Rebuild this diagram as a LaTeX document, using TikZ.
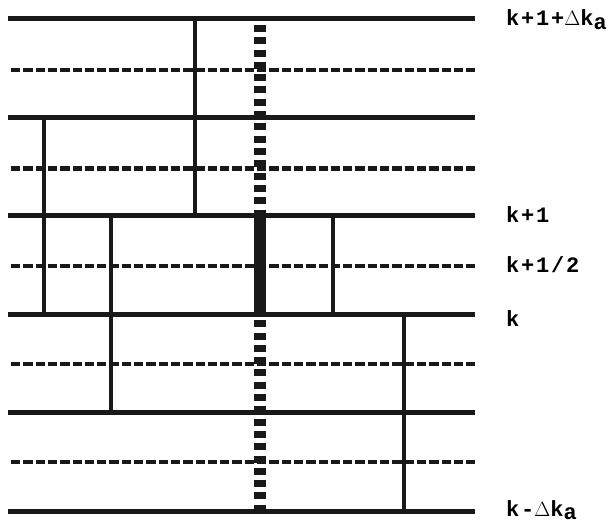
\documentclass[tikz,border=0pt]{standalone}
\usepackage{fontspec}
\newfontfamily\labelfont[LetterSpace=8]{Liberation Mono}
\begin{document}
\begin{tikzpicture}[x=1pt,y=-1pt,
  level/.style={line width=5pt,black!90},
  halflevel/.style={line width=4.5pt,black!90,dash pattern=on 9.3pt off 3pt},
  link/.style={line width=4.5pt,black!90},
  axisdash/.style={line width=12pt,black!90,dash pattern=on 7pt off 5.3pt},
  axisbar/.style={line width=12pt,black!90},
  lbl/.style={anchor=base west,inner sep=0pt,font=\labelfont\bfseries\fontsize{22}{22}\selectfont}]
\useasboundingbox (0,0) rectangle (613,524);
% solid levels
\foreach \y [count=\i] in {19,117.4,215.8,314.2,412.6,511}{
  \coordinate (sL\i) at (8,\y); \coordinate (sR\i) at (475,\y);
  \draw[level] (sL\i) -- (sR\i);
}
% dashed half levels
\foreach \y [count=\i] in {70,168.6,266,364,462}{
  \coordinate (dL\i) at (11,\y); \coordinate (dR\i) at (475,\y);
  \draw[halflevel] (dL\i) -- (dR\i);
}
% central axis
\coordinate (axT) at (260,25);
\coordinate (axB) at (260,511);
\draw[axisdash] (axT) -- (axB);
\coordinate (barT) at (260,213);
\coordinate (barB) at (260,317);
\draw[axisbar] (barT) -- (barB);
% vertical links
\draw[link] (195,19) -- (195,215.8);
\draw[link] (44,117.4) -- (44,314.2);
\draw[link] (111,215.8) -- (111,412.6);
\draw[link] (333,215.8) -- (333,314.2);
\draw[link] (404,314.2) -- (404,511);
% labels
\node[lbl] (l1) at (506,26) {k+1+\(\Delta\)k\raisebox{-0.3ex}{a}};
\node[lbl] (l2) at (506,222) {k+1};
\node[lbl] (l3) at (506,272) {k+1/2};
\node[lbl] (l4) at (506,326) {k};
\node[lbl] (l5) at (506,516) {k-\(\Delta\)k\raisebox{-0.3ex}{a}};
\end{tikzpicture}
\end{document}
